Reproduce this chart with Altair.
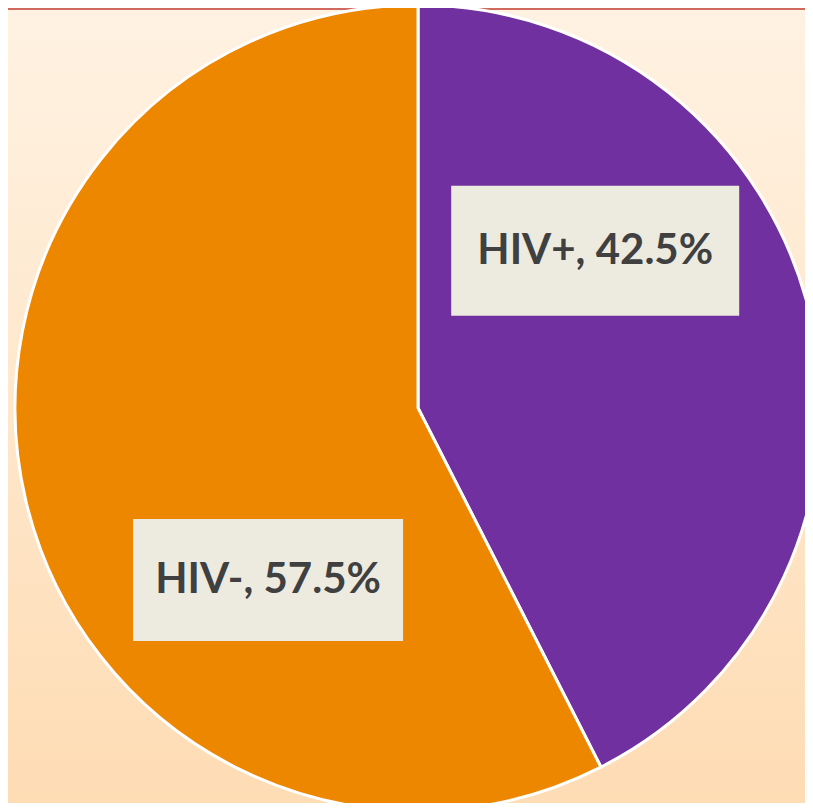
import math
import altair as alt
import pandas as pd

# ---- data ----
categories = ["HIV+", "HIV-"]
values = [42.5, 57.5]
colors = ["#7030a0", "#ee8700"]

# ---- layout constants ----
W, H = 797, 795
CX, CY, R = 410, 400, 403
label_angle_deg = [48.4, 221.1]      # clockwise from 12 o'clock
label_radius_frac = [0.588, 0.566]
box_half_w_px = [144, 135]
box_half_h_px = [65, 61]

pie_df = pd.DataFrame({"cat": categories, "val": values, "idx": list(range(len(categories)))})

rows = []
for c, v, a, rf, hw, hh in zip(categories, values, label_angle_deg, label_radius_frac,
                                box_half_w_px, box_half_h_px):
    t = math.radians(a)
    ux = rf * math.sin(t)
    uy = rf * math.cos(t)
    rows.append({
        "cat": c, "text": f"{c}, {v}%",
        "x": ux, "y": uy,
        "x1": ux - hw / R, "x2": ux + hw / R,
        "y1": uy - hh / R, "y2": uy + hh / R,
    })
lab_df = pd.DataFrame(rows)

xscale = alt.Scale(domain=[-CX / R, (W - CX) / R], nice=False, zero=False)
yscale = alt.Scale(domain=[-(H - CY) / R, CY / R], nice=False, zero=False)

bg = alt.Chart(pd.DataFrame({"a": [0]})).mark_rect(
    color=alt.Gradient(
        gradient="linear",
        stops=[alt.GradientStop(color="#fff2e2", offset=0),
               alt.GradientStop(color="#fedcb4", offset=1)],
        x1=0, x2=0, y1=0, y2=1,
    )
).encode(x=alt.value(0), x2=alt.value(W), y=alt.value(0), y2=alt.value(H))

topline = alt.Chart(pd.DataFrame({"a": [0]})).mark_rule(
    color="#d06a5e", strokeWidth=2
).encode(x=alt.value(0), x2=alt.value(W), y=alt.value(1))

pie = alt.Chart(pie_df).mark_arc(
    radius=R, stroke="white", strokeWidth=3
).encode(
    theta=alt.Theta("val:Q", stack=True),
    order=alt.Order("idx:Q"),
    color=alt.Color("cat:N", scale=alt.Scale(domain=categories, range=colors), legend=None),
    x=alt.value(CX), y=alt.value(CY),
)

boxes = alt.Chart(lab_df).mark_rect(color="#edebe0").encode(
    x=alt.X("x1:Q", scale=xscale, axis=None),
    x2="x2:Q",
    y=alt.Y("y1:Q", scale=yscale, axis=None),
    y2="y2:Q",
)

texts = alt.Chart(lab_df).mark_text(
    font="Lato", fontWeight="bold", fontSize=42, color="#404040",
    align="center", baseline="middle",
).encode(
    x=alt.X("x:Q", scale=xscale, axis=None),
    y=alt.Y("y:Q", scale=yscale, axis=None),
    text="text:N",
)

chart = alt.layer(bg, topline, pie, boxes, texts).properties(
    width=W, height=H,
    autosize=alt.AutoSizeParams(type="none"),
    padding=0,
    background="#fff2e2",
).configure_view(stroke=None)

chart.save("out.html", embed_options={"renderer": "svg", "actions": False})
